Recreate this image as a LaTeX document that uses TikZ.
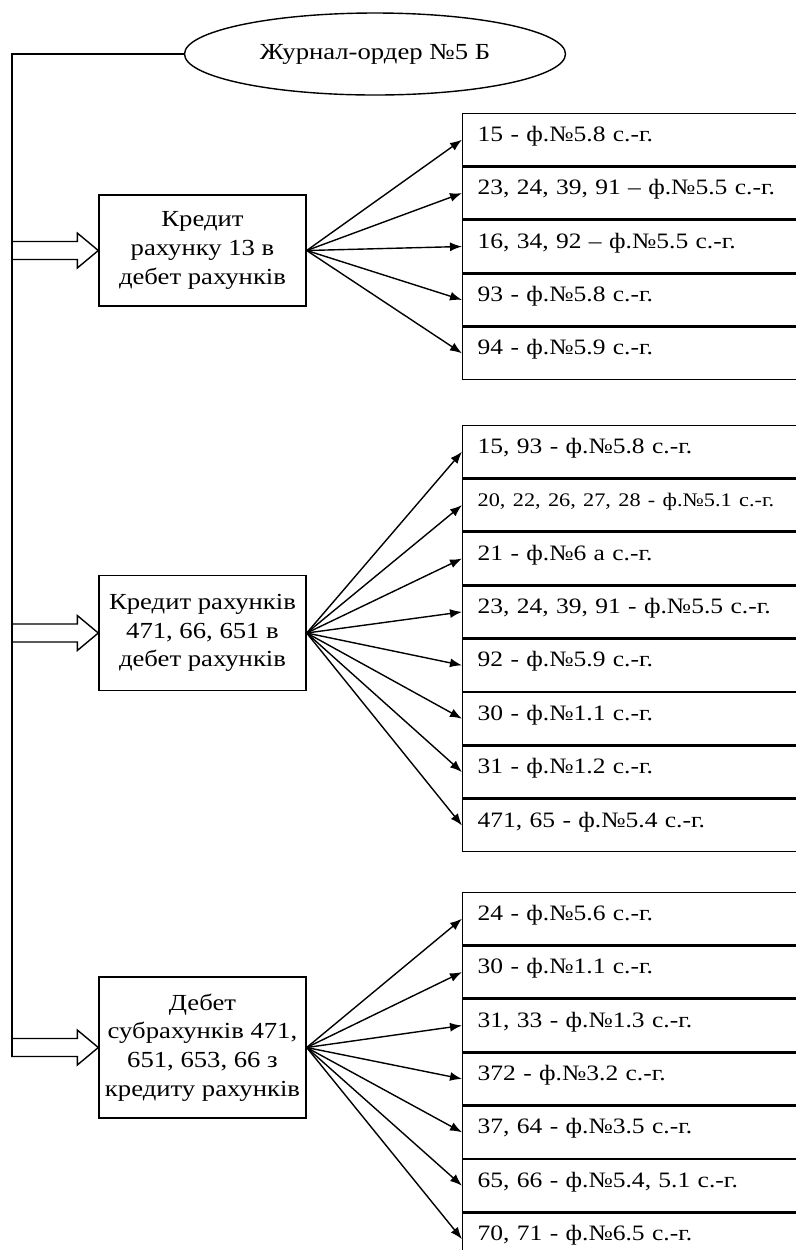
\documentclass[tikz,border=0pt]{standalone}
\usepackage{fontspec}
\setmainfont{Liberation Serif}[FakeStretch=1.16]
\usetikzlibrary{positioning,shapes.geometric,arrows.meta,calc}

\tikzset{
  leftbox/.style={draw, align=center, minimum width=103.5pt, inner xsep=1pt,
    font=\fontsize{11.5}{14.4}\selectfont},
  formbox/.style={draw, anchor=north west, minimum width=190pt, minimum height=26pt,
    text width=175pt, text height=7pt, text depth=5.5pt, inner xsep=7.5pt, align=left,
    font=\fontsize{11}{14.2}\selectfont},
  conn/.style={-{Latex[length=6pt,width=4.5pt]}}
}

\begin{document}
\begin{tikzpicture}[x=0.5pt,y=-0.5pt,line width=0.7pt]
  \useasboundingbox (0,0) rectangle (796,1250);
  \clip (0,0) rectangle (796,1250);

  % Journal-order (ellipse)
  \node[ellipse,draw,minimum width=190.5pt,minimum height=41pt,
    font=\fontsize{11.5}{14.4}\selectfont] (title) at (375,54) {Журнал-ордер №5 Б};

  % Left boxes
  \node[leftbox,minimum height=55.5pt] (k1) at (202.5,250.5) {Кредит\\рахунку 13 в\\дебет рахунків};
  \node[leftbox,minimum height=57.5pt] (k2) at (202.5,633) {Кредит рахунків\\471, 66, 651 в\\дебет рахунків};
  \node[leftbox,minimum height=70.5pt] (k3) at (202.5,1047.5) {Дебет\\субрахунків 471,\\651, 653, 66 з\\кредиту рахунків};

  % Forms of group 1
  \node[formbox] (a1) at (462,113) {15 - ф.№5.8 с.-г.};
  \foreach \t [count=\i from 2, evaluate=\i as \j using int(\i-1)] in
    {{23, 24, 39, 91 – ф.№5.5 с.-г.},{16, 34, 92 – ф.№5.5 с.-г.},
     {93 - ф.№5.8 с.-г.},{94 - ф.№5.9 с.-г.}}
    \node[formbox,below=0pt of a\j] (a\i) {\t};

  % Forms of group 2
  \node[formbox] (b1) at (462,425) {15, 93 - ф.№5.8 с.-г.};
  \foreach \t [count=\i from 2, evaluate=\i as \j using int(\i-1)] in
    {{\fontsize{9.6}{12}\selectfont 20, 22, 26, 27, 28 - ф.№5.1 с.-г.},{21 - ф.№6 а с.-г.},
     {23, 24, 39, 91 - ф.№5.5 с.-г.},{92 - ф.№5.9 с.-г.},{30 - ф.№1.1 с.-г.},
     {31 - ф.№1.2 с.-г.},{471, 65 - ф.№5.4 с.-г.}}
    \node[formbox,below=0pt of b\j] (b\i) {\t};

  % Forms of group 3
  \node[formbox] (c1) at (462,892) {24 - ф.№5.6 с.-г.};
  \foreach \t [count=\i from 2, evaluate=\i as \j using int(\i-1)] in
    {{30 - ф.№1.1 с.-г.},{31, 33 - ф.№1.3 с.-г.},{372 - ф.№3.2 с.-г.},
     {37, 64 - ф.№3.5 с.-г.},{65, 66 - ф.№5.4, 5.1 с.-г.},{70, 71 - ф.№6.5 с.-г.}}
    \node[formbox,below=0pt of c\j] (c\i) {\t};

  % Arrows
  \foreach \i in {1,...,5}
    \draw[conn] (k1.east) -- (a\i.west);
  \foreach \i in {1,...,8}
    \draw[conn] (k2.east) -- (b\i.west);
  \foreach \i in {1,...,7}
    \draw[conn] (k3.east) -- (c\i.west);

  % Block arrows and the line from the journal
  \foreach \k in {k1,k2,k3}
    \draw (\k.west) -- ++(-21,-17.5) -- ++(0,8.5) -- ++(-65.5,0)
      -- ++(0,18) -- ++(65.5,0) -- ++(0,8.5) -- cycle;
  \coordinate (spine) at ($(k3.west)+(-86.5,9)$);
  \draw (title.west) -| (spine);
\end{tikzpicture}
\end{document}
